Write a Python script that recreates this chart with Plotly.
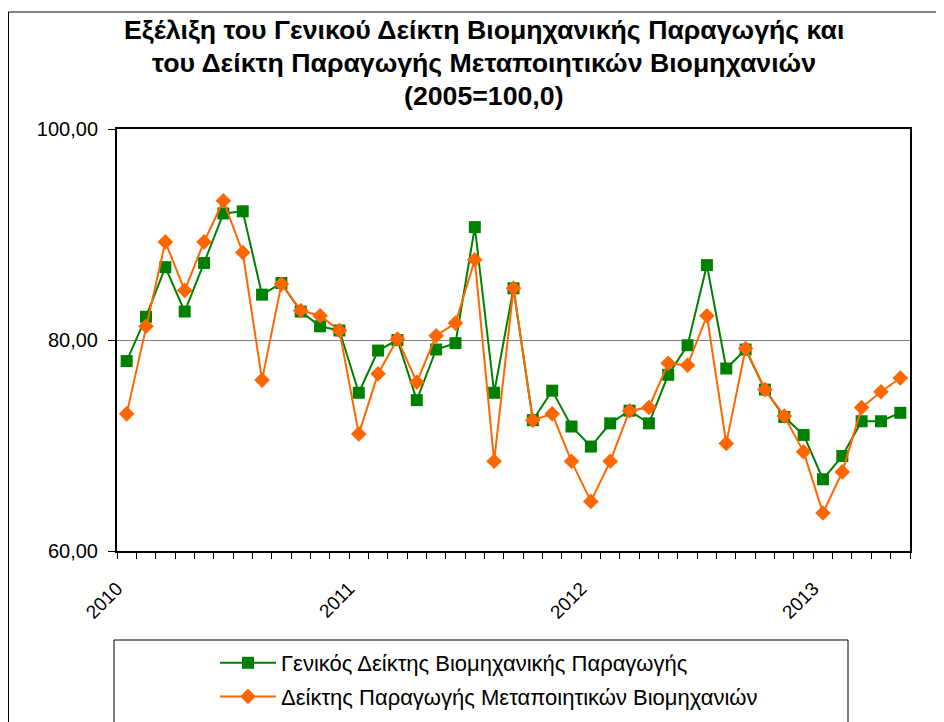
import plotly.graph_objects as go

# ---- data ----
start_year = 2010
n_months = 41
months = [f"{start_year + i // 12}-{i % 12 + 1:02d}" for i in range(n_months)]

general_index = [78.0, 82.2, 86.9, 82.7, 87.3, 92.0, 92.2, 84.3, 85.4, 82.7, 81.3, 80.9,
                 75.0, 79.0, 80.0, 74.3, 79.1, 79.7, 90.7, 75.0, 84.9, 72.4, 75.2, 71.8,
                 69.9, 72.1, 73.3, 72.1, 76.7, 79.5, 87.1, 77.3, 79.1, 75.3, 72.7, 71.0,
                 66.8, 69.0, 72.3, 72.3, 73.1]
manuf_index = [73.0, 81.3, 89.3, 84.7, 89.3, 93.2, 88.3, 76.2, 85.3, 82.8, 82.3, 80.9,
               71.1, 76.8, 80.1, 76.0, 80.4, 81.6, 87.6, 68.5, 84.9, 72.4, 73.0, 68.5,
               64.7, 68.5, 73.3, 73.6, 77.8, 77.6, 82.3, 70.2, 79.2, 75.3, 72.8, 69.4,
               63.6, 67.5, 73.6, 75.1, 76.4]

series_names = ["Γενικός Δείκτης Βιομηχανικής Παραγωγής",
                "Δείκτης Παραγωγής Μεταποιητικών Βιομηχανιών"]
title_lines = ["Εξέλιξη του Γενικού Δείκτη Βιομηχανικής Παραγωγής και",
               "του Δείκτη Παραγωγής Μεταποιητικών Βιομηχανιών",
               "(2005=100,0)"]
y_ticks = [60, 80, 100]

x = list(range(len(months)))
year_pos = [i - 0.5 for i, m in enumerate(months) if m.endswith("-01")]
year_txt = [m[:4] for m in months if m.endswith("-01")]

FONT = "Liberation Sans, Arial, sans-serif"

fig = go.Figure()
fig.add_trace(go.Scatter(
    x=x, y=general_index, name=series_names[0], mode="lines+markers",
    line=dict(color="#008000", width=2),
    marker=dict(symbol="square", size=12, color="#008000"),
    legendgroup="a"))
fig.add_trace(go.Scatter(
    x=x, y=manuf_index, name=series_names[1], mode="lines+markers",
    line=dict(color="#FF6600", width=2),
    marker=dict(symbol="diamond", size=12, color="#FF6600"),
    legendgroup="b"))

OFF = 8  # page body margin
W, H = 944 - OFF, 722 - OFF
L, T = 117 - OFF, 129 - OFF
R = W - (910 - OFF)
B = H - (551 - OFF)
pw, ph = W - L - R, H - T - B

def px_x(v):
    return (v - OFF - L) / pw

def px_y(v):
    return (H - B - (v - OFF)) / ph

shapes = [
    dict(type="rect", xref="paper", yref="paper",
         x0=px_x(8.5), x1=px_x(938), y0=px_y(780), y1=px_y(12),
         line=dict(color="black", width=1), fillcolor="rgba(0,0,0,0)", layer="below"),
    dict(type="rect", xref="paper", yref="paper",
         x0=px_x(114), x1=px_x(848), y0=px_y(780), y1=px_y(640),
         line=dict(color="black", width=1), fillcolor="rgba(0,0,0,0)", layer="below"),
]

annotations = []
for ty, txt in zip([30, 63, 96], title_lines):
    annotations.append(dict(
        text=f"<b>{txt}</b>", xref="paper", yref="paper",
        x=px_x(484), y=px_y(ty), xanchor="center", yanchor="middle",
        showarrow=False, font=dict(family=FONT, size=26.7, color="black")))

fig.update_layout(
    width=W, height=H,
    margin=dict(l=L, r=R, t=T, b=B, autoexpand=False),
    paper_bgcolor="white", plot_bgcolor="white",
    separators=", ",
    font=dict(family=FONT, color="black"),
    showlegend=True,
    legend=dict(x=px_x(215), y=px_y(642), xanchor="left", yanchor="top",
                bgcolor="rgba(0,0,0,0)", borderwidth=0,
                font=dict(family=FONT, size=22, color="black"),
                tracegroupgap=2, itemwidth=56),
    shapes=shapes,
    annotations=annotations,
)

fig.update_xaxes(
    range=[-0.5, len(months) - 0.5],
    tickmode="array", tickvals=year_pos, ticktext=year_txt,
    tickangle=-45, ticks="outside", ticklen=6, tickcolor="black", tickwidth=1,
    minor=dict(tick0=-0.5, dtick=1, ticks="outside", ticklen=6,
               tickcolor="black", tickwidth=1, showgrid=False),
    showgrid=False, zeroline=False,
    showline=True, mirror=True, linecolor="black", linewidth=2,
    ticklabelstandoff=11,
    tickfont=dict(family=FONT, size=19, color="black"),
)
fig.update_yaxes(
    range=[60, 100], tickmode="array", tickvals=y_ticks, tickformat=".2f",
    ticks="outside", ticklen=7, tickcolor="black",
    showgrid=True, gridcolor="#808080", gridwidth=1,
    zeroline=False,
    showline=True, mirror=True, linecolor="black", linewidth=2,
    ticklabelstandoff=6,
    tickfont=dict(family=FONT, size=20, color="black"),
)

fig.write_html("out.html")
